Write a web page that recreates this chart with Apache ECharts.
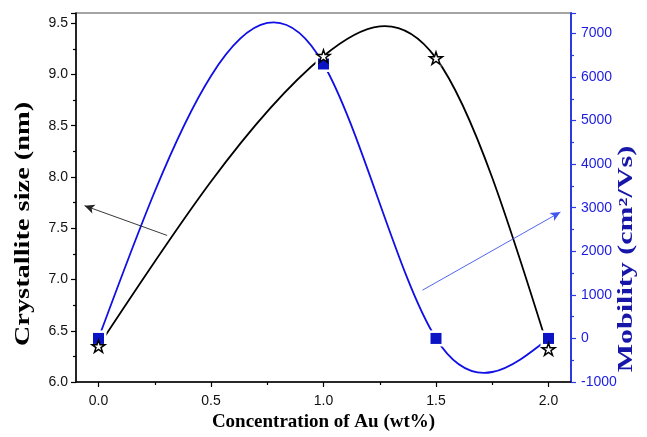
<!DOCTYPE html>
<html>
<head>
<meta charset="utf-8">
<script src="https://cdn.jsdelivr.net/npm/echarts@6/dist/echarts.min.js"></script>
<style>
  html, body { margin: 0; padding: 0; background: #fff; }
  #chart { width: 647px; height: 437px; }
</style>
</head>
<body>
<div id="chart"></div>
<script>
// Au doping level (wt%) and the measured film properties
const auConcentration = [0.0, 1.0, 1.5, 2.0];
const crystalliteSize = [6.35, 9.18, 9.16, 6.32];   // nm
const mobility = [0, 6300, 0, 0];                   // cm^2/Vs
const xTickValues = [0, 0.5, 1.0, 1.5, 2.0];
const xMinorTickValues = [0.25, 0.75, 1.25, 1.75];

// Annotation arrows pointing each curve to its own axis ([from], [to]) in data units
const sizeArrow = [[0.305, 7.43], [-0.062, 7.72]];
const mobilityArrow = [[1.44, 1108], [2.053, 2900]];

const BLACK = '#000000';
const CURVE_BLUE = '#0f0fe6';
const MARK_BLUE = '#0a14c4';
const AXIS_BLUE = '#2b3be0';
const LABEL_BLUE = '#1c1ce0';
const TITLE_BLUE = '#1616a8';
const SANS = '"Liberation Sans", Arial, sans-serif';
const SERIF = '"Liberation Serif", "Times New Roman", serif';

const STAR = 'path://M50,2 L61.2,36.2 L97,36.2 L68,57.3 L79.1,91.5 L50,70.3 L20.9,91.5 L32,57.3 L3,36.2 L38.8,36.2 Z';

function pairs(xs, ys) {
  return xs.map((x, i) => [x, ys[i]]);
}

// Natural cubic spline through the points, expressed as exact cubic Bezier segments
function splineSegments(xs, ys) {
  const n = xs.length;
  const h = [];
  for (let i = 0; i < n - 1; i++) h.push(xs[i + 1] - xs[i]);
  const M = new Array(n).fill(0);
  if (n > 2) {
    const a = [], b = [], c = [], d = [];
    for (let i = 1; i < n - 1; i++) {
      a.push(h[i - 1]);
      b.push(2 * (h[i - 1] + h[i]));
      c.push(h[i]);
      d.push(6 * ((ys[i + 1] - ys[i]) / h[i] - (ys[i] - ys[i - 1]) / h[i - 1]));
    }
    const m = b.length;
    for (let i = 1; i < m; i++) {
      const w = a[i] / b[i - 1];
      b[i] -= w * c[i - 1];
      d[i] -= w * d[i - 1];
    }
    const sol = new Array(m);
    sol[m - 1] = d[m - 1] / b[m - 1];
    for (let i = m - 2; i >= 0; i--) sol[i] = (d[i] - c[i] * sol[i + 1]) / b[i];
    for (let i = 0; i < m; i++) M[i + 1] = sol[i];
  }
  const segs = [];
  for (let i = 0; i < n - 1; i++) {
    const hh = h[i];
    const slope = (ys[i + 1] - ys[i]) / hh;
    const d0 = slope - hh * (2 * M[i] + M[i + 1]) / 6;
    const d1 = slope + hh * (M[i] + 2 * M[i + 1]) / 6;
    segs.push([
      [xs[i], ys[i]],
      [xs[i] + hh / 3, ys[i] + d0 * hh / 3],
      [xs[i + 1] - hh / 3, ys[i + 1] - d1 * hh / 3],
      [xs[i + 1], ys[i + 1]]
    ]);
  }
  return segs;
}

function curveRenderer(xs, ys, color) {
  const segs = splineSegments(xs, ys);
  return function (params, api) {
    if (params.dataIndex !== 0) return null;
    return {
      type: 'group',
      children: segs.map(s => {
        const p0 = api.coord(s[0]), c1 = api.coord(s[1]);
        const c2 = api.coord(s[2]), p1 = api.coord(s[3]);
        return {
          type: 'bezierCurve',
          shape: { x1: p0[0], y1: p0[1], cpx1: c1[0], cpy1: c1[1],
                   cpx2: c2[0], cpy2: c2[1], x2: p1[0], y2: p1[1] },
          style: { stroke: color, lineWidth: 1.8, fill: null }
        };
      })
    };
  };
}

function arrowLine(seg, color, width) {
  return {
    silent: true,
    symbol: ['none', 'arrow'],
    symbolSize: [7, 10],
    label: { show: false },
    emphasis: { disabled: true },
    lineStyle: { color: color, width: width, type: 'solid' },
    data: [[{ coord: seg[0] }, { coord: seg[1] }]]
  };
}

const chart = echarts.init(document.getElementById('chart'), null, { renderer: 'canvas' });

chart.setOption({
  animation: false,
  backgroundColor: '#ffffff',
  grid: {
    left: 76, right: 76, top: 13, bottom: 46,
    show: true, borderColor: '#4a4a4a', borderWidth: 1.2, backgroundColor: 'transparent'
  },
  xAxis: [
    {
      type: 'value', min: -0.1, max: 2.1,
      name: 'Concentration of Au (wt%)',
      nameLocation: 'middle', nameGap: 31,
      nameTextStyle: { fontFamily: SERIF, fontWeight: 'bold', fontSize: 19, color: '#000' },
      axisLine: { onZero: false, lineStyle: { color: BLACK, width: 1.5 } },
      axisTick: { show: true, inside: false, length: 5, customValues: xTickValues,
                  lineStyle: { color: BLACK, width: 1.2 } },
      axisLabel: { customValues: xTickValues, margin: 12, fontFamily: SANS, fontSize: 14, color: '#111',
                   formatter: v => v.toFixed(1) },
      splitLine: { show: false }
    },
    {
      type: 'value', min: -0.1, max: 2.1, position: 'bottom',
      axisLine: { show: false, onZero: false },
      axisTick: { show: true, inside: false, length: 3, customValues: xMinorTickValues,
                  lineStyle: { color: BLACK, width: 1.2 } },
      axisLabel: { show: false },
      splitLine: { show: false }
    }
  ],
  yAxis: [
    {
      type: 'value', min: 6.0, max: 9.6, interval: 0.5, position: 'left',
      axisLine: { show: true, onZero: false, lineStyle: { color: BLACK, width: 1.5 } },
      axisTick: { show: true, inside: false, length: 5, lineStyle: { color: BLACK, width: 1.2 } },
      minorTick: { show: true, splitNumber: 2, length: 3, lineStyle: { color: BLACK, width: 1.2 } },
      axisLabel: { margin: 8, fontFamily: SANS, fontSize: 14, color: '#111',
                   showMaxLabel: false, formatter: v => v.toFixed(1) },
      splitLine: { show: false }
    },
    {
      type: 'value', min: -1000, max: 7470, interval: 1000, position: 'right',
      axisLine: { show: true, onZero: false, lineStyle: { color: AXIS_BLUE, width: 2 } },
      axisTick: { show: true, inside: false, length: 5, lineStyle: { color: AXIS_BLUE, width: 1.2 } },
      minorTick: { show: true, splitNumber: 2, length: 3, lineStyle: { color: AXIS_BLUE, width: 1.2 } },
      axisLabel: { margin: 10, fontFamily: SANS, fontSize: 14, color: LABEL_BLUE,
                   showMaxLabel: false, formatter: v => String(v) },
      splitLine: { show: false }
    }
  ],
  graphic: [
    {
      type: 'text', x: 24, y: 224, rotation: Math.PI / 2, scaleX: 1.42, z: 100,
      style: { text: 'Crystallite size (nm)', font: 'bold 20px ' + SERIF, fill: '#000',
               align: 'center', verticalAlign: 'middle', textAlign: 'center', textVerticalAlign: 'middle' }
    },
    {
      type: 'text', x: 627, y: 259, rotation: Math.PI / 2, scaleX: 1.5, z: 100,
      style: { text: 'Mobility (cm\u00B2/Vs)', font: 'bold 20px ' + SERIF, fill: TITLE_BLUE,
               align: 'center', verticalAlign: 'middle', textAlign: 'center', textVerticalAlign: 'middle' }
    }
  ],
  series: [
    {
      name: 'Crystallite size curve', type: 'custom', yAxisIndex: 0, z: 2,
      encode: { x: 0, y: 1 },
      renderItem: curveRenderer(auConcentration, crystalliteSize, BLACK),
      data: pairs(auConcentration, crystalliteSize),
      silent: true
    },
    {
      name: 'Mobility curve', type: 'custom', yAxisIndex: 1, z: 2,
      encode: { x: 0, y: 1 },
      renderItem: curveRenderer(auConcentration, mobility, CURVE_BLUE),
      data: pairs(auConcentration, mobility),
      silent: true
    },
    // white backing behind the symbols so each curve stops just short of its markers
    {
      name: 'Crystallite size gap', type: 'scatter', yAxisIndex: 0, z: 3,
      symbol: STAR, symbolSize: 18, symbolKeepAspect: true,
      itemStyle: { color: '#ffffff', opacity: 1 },
      data: pairs(auConcentration, crystalliteSize),
      silent: true
    },
    {
      name: 'Mobility gap', type: 'scatter', yAxisIndex: 1, z: 3,
      symbol: 'rect', symbolSize: 16,
      itemStyle: { color: '#ffffff', opacity: 1 },
      data: pairs(auConcentration, mobility),
      silent: true
    },
    {
      name: 'Crystallite size', type: 'scatter', yAxisIndex: 0, z: 5,
      symbol: STAR, symbolSize: 13, symbolKeepAspect: true,
      itemStyle: { color: '#ffffff', borderColor: BLACK, borderWidth: 1.5, opacity: 1 },
      data: pairs(auConcentration, crystalliteSize),
      markLine: arrowLine(sizeArrow, '#222222', 0.9),
      silent: true
    },
    {
      name: 'Mobility', type: 'scatter', yAxisIndex: 1, z: 4,
      symbol: 'rect', symbolSize: 11,
      itemStyle: { color: MARK_BLUE, opacity: 1 },
      data: pairs(auConcentration, mobility),
      markLine: arrowLine(mobilityArrow, '#3f55ee', 0.9),
      silent: true
    }
  ]
});
</script>
</body>
</html>
